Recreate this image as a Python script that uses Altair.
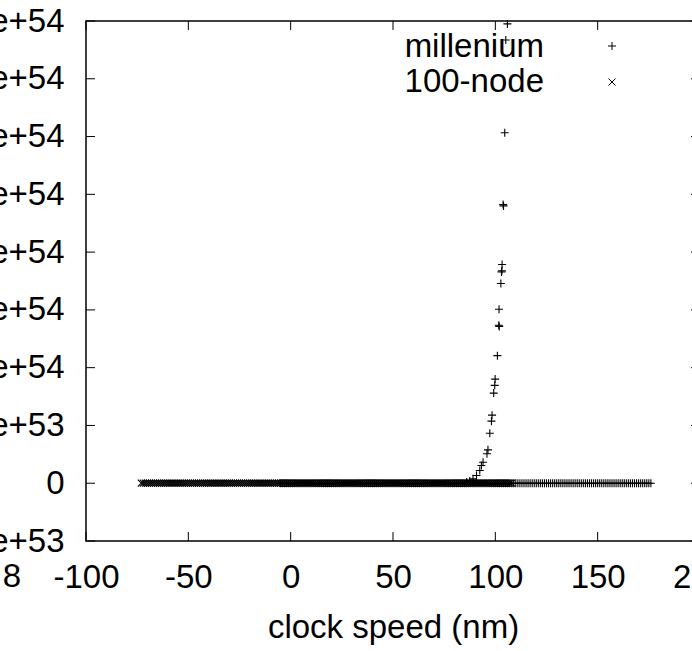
import altair as alt
import pandas as pd

# ---------------- data ----------------
x_ticks = [-100, -50, 0, 50, 100, 150, 200]
y_ticks = [-5e53, 0.0, 5e53, 1e54, 1.5e54, 2e54, 2.5e54, 3e54, 3.5e54, 4e54]
y_labels = ["-5e+53", "0", "5e+53", "1e+54", "1.5e+54", "2e+54", "2.5e+54", "3e+54", "3.5e+54", "4e+54"]

# millenium: rising part (x in nm, y in units of 1e54)
mill_rise_x = [86.0, 87.5, 89.1, 90.8, 92.4, 93.2, 94.0, 95.9, 96.4, 97.3, 98.1, 98.4,
               99.2, 99.7, 99.9, 101.0, 101.7, 101.9, 101.8, 102.7, 103.0, 103.2,
               103.3, 103.8, 104.0, 104.6, 105.1, 105.9]
mill_rise_y = [0.010, 0.020, 0.038, 0.067, 0.110, 0.153, 0.182, 0.255, 0.289, 0.433,
               0.537, 0.589, 0.780, 0.847, 0.901, 1.104, 1.367, 1.357, 1.505, 1.728,
               1.828, 1.838, 1.893, 2.412, 2.400, 3.033, 3.836, 3.975]
# millenium: flat part at y = 0 (regular spacing of about 1 nm)
mill_base_x = list(range(-5, 177))
# 100-node: flat at y = 0
node_base_x = list(range(-73, 109))

legend_labels = ["millenium", "100-node"]
extra_label = ["8"]

mill = pd.DataFrame({
    "x": mill_base_x + mill_rise_x,
    "y": [0.0] * len(mill_base_x) + [v * 1e54 for v in mill_rise_y],
})
node = pd.DataFrame({"x": node_base_x, "y": [0.0] * len(node_base_x)})
xt = pd.DataFrame({"x": x_ticks})
yt = pd.DataFrame({"y": y_ticks})

# ---------------- style ----------------
W, H = 614, 520
FONT = "Liberation Sans"
FS = 33
PLUS = "M-1,0L1,0M0,-1L0,1"
CROSS = "M-1,-1L1,1M-1,1L1,-1"
PSIZE = 64
XSIZE = 49

xs = alt.Scale(domain=[-100, 200], nice=False, zero=False)
ys = alt.Scale(domain=[-5e53, 4e54], nice=False, zero=False)

y_expr = "''"
for v, lab in zip(y_ticks, y_labels):
    y_expr = f"(datum.value == {repr(v)} ? '{lab}' : {y_expr})"

xaxis = alt.Axis(values=x_ticks, ticks=False, domain=False, grid=False,
                 labelExpr="datum.value + ''", labelFlush=False, labelOverlap=False,
                 labelFontSize=FS, labelFont=FONT, labelColor="black", labelPadding=20,
                 title="clock speed (nm)", titleFontSize=FS, titleFont=FONT,
                 titleFontWeight="normal", titleColor="black", titlePadding=17)
yaxis = alt.Axis(values=y_ticks, ticks=False, domain=False, grid=False,
                 labelExpr=y_expr, labelFlush=False, labelOverlap=False,
                 labelFontSize=FS, labelFont=FONT, labelColor="black", labelPadding=22,
                 title="")

X = alt.X("x:Q", scale=xs, axis=xaxis)
Y = alt.Y("y:Q", scale=ys, axis=yaxis)

pts_mill = alt.Chart(mill).mark_point(shape=PLUS, size=PSIZE, filled=False, color="black",
                                      strokeWidth=1.1, opacity=1).encode(x=X, y=Y)
pts_node = alt.Chart(node).mark_point(shape=CROSS, size=XSIZE, filled=False, color="black",
                                      strokeWidth=1.1, opacity=1).encode(x=X, y=Y)

tk = dict(color="black", strokeWidth=1)
left_t = alt.Chart(yt).mark_rule(**tk).encode(y=Y, x=alt.value(0), x2=alt.value(9))
right_t = alt.Chart(yt).mark_rule(**tk).encode(y=Y, x=alt.value(W - 9), x2=alt.value(W))
bot_t = alt.Chart(xt).mark_rule(**tk).encode(x=X, y=alt.value(H), y2=alt.value(H - 9))
top_t = alt.Chart(xt).mark_rule(**tk).encode(x=X, y=alt.value(0), y2=alt.value(9))

def ltext(label, xpos, ypos):
    return alt.Chart(pd.DataFrame({"t": [label]})).mark_text(
        align="right", baseline="middle", font=FONT, fontSize=FS, color="black"
    ).encode(text="t:N", x=alt.value(xpos), y=alt.value(ypos))

def lsym(shape, size, xpos, ypos):
    return alt.Chart(pd.DataFrame({"t": [0]})).mark_point(
        shape=shape, size=size, filled=False, color="black", strokeWidth=1, opacity=1
    ).encode(x=alt.value(xpos), y=alt.value(ypos))

leg = (ltext(legend_labels[0], 458, 26) + ltext(legend_labels[1], 458, 61)
       + lsym(PLUS, PSIZE, 526, 25) + lsym(CROSS, XSIZE, 526, 61))

eight = alt.Chart(pd.DataFrame({"t": extra_label})).mark_text(
    align="center", baseline="middle", font=FONT, fontSize=FS, color="black"
).encode(text="t:N", x=alt.value(-74), y=alt.value(556))

chart = alt.layer(
    left_t, right_t, bot_t, top_t, pts_node, pts_mill, leg, eight
).properties(
    width=W, height=H,
    autosize=alt.AutoSizeParams(type="none"),
    padding={"left": 86, "top": 21, "right": -8, "bottom": 110},
    background="white",
).configure_view(stroke="black", strokeWidth=1.5)

chart.save("out.html", embed_options={"renderer": "svg", "actions": False})
